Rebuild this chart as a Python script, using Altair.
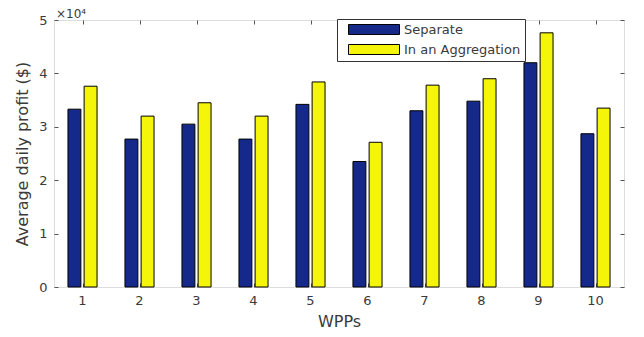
import altair as alt
import pandas as pd

wpps = [str(i) for i in range(1, 11)]
series = ["Separate", "In an Aggregation"]
separate = [33300, 27700, 30500, 27700, 34200, 23500, 33000, 34800, 42000, 28700]
aggregation = [37600, 32000, 34500, 32000, 38400, 27100, 37800, 39000, 47600, 33500]
colors = ["#15298a", "#f5f50a"]
y_ticks = [0, 10000, 20000, 30000, 40000, 50000]
exponent_label = ["×10⁴"]

rows = []
for w, s, a in zip(wpps, separate, aggregation):
    rows.append({"wpp": w, "series": series[0], "value": s})
    rows.append({"wpp": w, "series": series[1], "value": a})
df = pd.DataFrame(rows)

W, H = 570, 267
FONT = "DejaVu Sans"
TXT = "#3a3a3a"
AX = "#555555"

xscale = alt.Scale(paddingInner=0.49, paddingOuter=0.245)
yscale = alt.Scale(domain=[0, 50000], nice=False)

bars = alt.Chart(df).mark_bar(stroke="black", strokeWidth=1).encode(
    x=alt.X("wpp:N", sort=wpps, scale=xscale,
            axis=alt.Axis(title="WPPs", labelAngle=0, ticks=False, tickSize=0, domain=False,
                          labelPadding=7, titlePadding=6, labelFont=FONT, titleFont=FONT,
                          labelFontSize=13, titleFontSize=16, labelColor=TXT, titleColor=TXT,
                          titleFontWeight="normal")),
    xOffset=alt.XOffset("series:N", sort=series, scale=alt.Scale(paddingInner=0.2)),
    y=alt.Y("value:Q", scale=yscale,
            axis=alt.Axis(values=y_ticks, labelExpr="datum.value / 10000", title="Average daily profit ($)",
                          ticks=False, tickSize=0, domain=False, grid=False, labelPadding=7,
                          titlePadding=8, labelFont=FONT, titleFont=FONT, labelFontSize=13,
                          titleFontSize=16, labelColor=TXT, titleColor=TXT, titleFontWeight="normal")),
    color=alt.Color("series:N", sort=series, scale=alt.Scale(domain=series, range=colors),
                    legend=alt.Legend(title=None, orient="none", legendX=283, legendY=-1,
                                      symbolType="M-5.1,-1H5.1V1H-5.1Z", symbolSize=100,
                                      symbolStrokeColor="black", symbolStrokeWidth=1,
                                      labelFont=FONT, labelFontSize=13, labelColor=TXT,
                                      labelOffset=23.5, rowPadding=5, padding=4, symbolOffset=26.5,
                                      strokeColor="#333333", fillColor="white", zindex=1)),
)

def tick_layer(xorient, yorient):
    return alt.Chart(df).mark_point(opacity=0).encode(
        x=alt.X("wpp:N", sort=wpps, scale=xscale,
                axis=alt.Axis(orient=xorient, offset=-H, labels=False, ticks=True, tickSize=4,
                              tickColor=AX, domain=False, title=None)),
        y=alt.Y("value:Q", scale=yscale,
                axis=alt.Axis(orient=yorient, offset=-W, values=y_ticks, labels=False, ticks=True,
                              tickSize=4, tickColor=AX, domain=False, grid=False, title=None)),
    )

exponent = alt.Chart(pd.DataFrame({"t": exponent_label})).mark_text(
    align="left", baseline="alphabetic", font=FONT, fontSize=12, color=TXT
).encode(x=alt.value(2), y=alt.value(-2), text="t:N")

chart = alt.layer(
    bars,
    tick_layer("top", "right"),
    tick_layer("bottom", "left"),
    exponent,
).resolve_scale(x="independent", y="independent").properties(
    width=W, height=H,
    autosize=alt.AutoSizeParams(type="none"),
    padding={"left": 46, "top": 12, "right": 12, "bottom": 50},
).configure_view(stroke=AX, strokeWidth=1).configure(background="white")

chart.save("out.html", embed_options={"renderer": "svg", "actions": False})
